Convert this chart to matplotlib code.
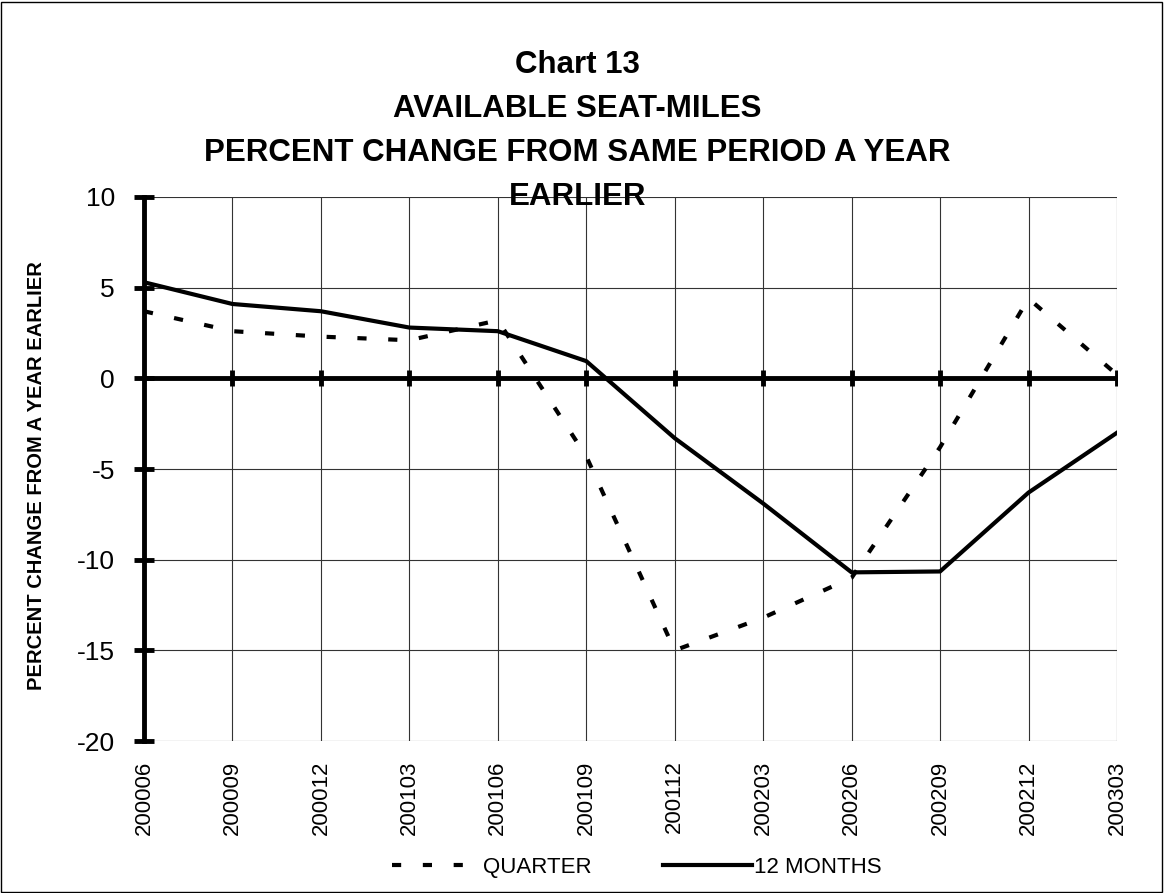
import matplotlib.pyplot as plt
from matplotlib.patches import Rectangle

plt.rcParams['font.family'] = ['Liberation Sans', 'DejaVu Sans']

# data
periods = ['200006', '200009', '200012', '200103', '200106', '200109',
           '200112', '200203', '200206', '200209', '200212', '200303']
quarter = [3.7, 2.6, 2.3, 2.1, 3.2, -4.3, -15.0, -13.2, -11.0, -3.8, 4.4, 0.2]
twelve_months = [5.3, 4.1, 3.7, 2.8, 2.6, 0.95, -3.3, -6.9, -10.7, -10.65, -6.3, -3.0]
y_ticks = [-20, -15, -10, -5, 0, 5, 10]
title_lines = ['Chart 13', 'AVAILABLE SEAT-MILES',
               'PERCENT CHANGE FROM SAME PERIOD A YEAR', 'EARLIER']

fig = plt.figure(figsize=(11.64, 8.93), dpi=100)
ax = fig.add_axes([0.1237, 0.1702, 0.8359, 0.6092])

x = list(range(len(periods)))

# gridlines
for xi in x:
    ax.axvline(xi, color='#333333', lw=0.8, zorder=1)
for yt in y_ticks:
    ax.axhline(yt, color='#333333', lw=0.8, zorder=1)

# category axis crossing at zero
ax.axhline(0, color='black', lw=3.5, zorder=2)
ax.plot(x[1:], [0] * (len(x) - 1), ls='none', marker='|', ms=12, mew=3.5,
        color='black', zorder=2)

ax.plot(x, quarter, color='black', lw=3, dashes=(2.2, 5.2), label='QUARTER', zorder=3)
ax.plot(x, twelve_months, color='black', lw=3, label='12 MONTHS', zorder=3)

ax.set_xlim(0, len(periods) - 1)
ax.set_ylim(-20, 10)
ax.set_yticks(y_ticks)
ax.set_yticklabels([str(v) for v in y_ticks], fontsize=19)
ax.set_xticks(x)
ax.set_xticklabels(periods, rotation=90, fontsize=16)
ax.tick_params(axis='x', length=0, pad=14)
ax.tick_params(axis='y', direction='inout', length=14, width=3.5, pad=14)

for side in ['top', 'right', 'bottom']:
    ax.spines[side].set_visible(False)
ax.spines['left'].set_linewidth(3.5)
ax.spines['left'].set_zorder(4)

fig.text(37 / 1164, 0.467, 'PERCENT CHANGE FROM A YEAR EARLIER', rotation=90,
         ha='center', va='center', fontsize=14.5, fontweight='bold')

# title, one line at a time (baselines)
for i, line in enumerate(title_lines):
    fig.text(0.496, 1 - (73 + 44 * i) / 893, line, ha='center', va='baseline',
             fontsize=22.5, fontweight='bold')

fig.legend(loc='center', bbox_to_anchor=(0.547, 0.029), ncol=2, frameon=False,
           fontsize=16, handlelength=4.0, columnspacing=3.2, handletextpad=0.1)

fig.patches.append(Rectangle((0.001, 0.001), 0.997, 0.997, transform=fig.transFigure,
                             fill=False, edgecolor='black', lw=1))

fig.savefig('out.png', dpi=100)
